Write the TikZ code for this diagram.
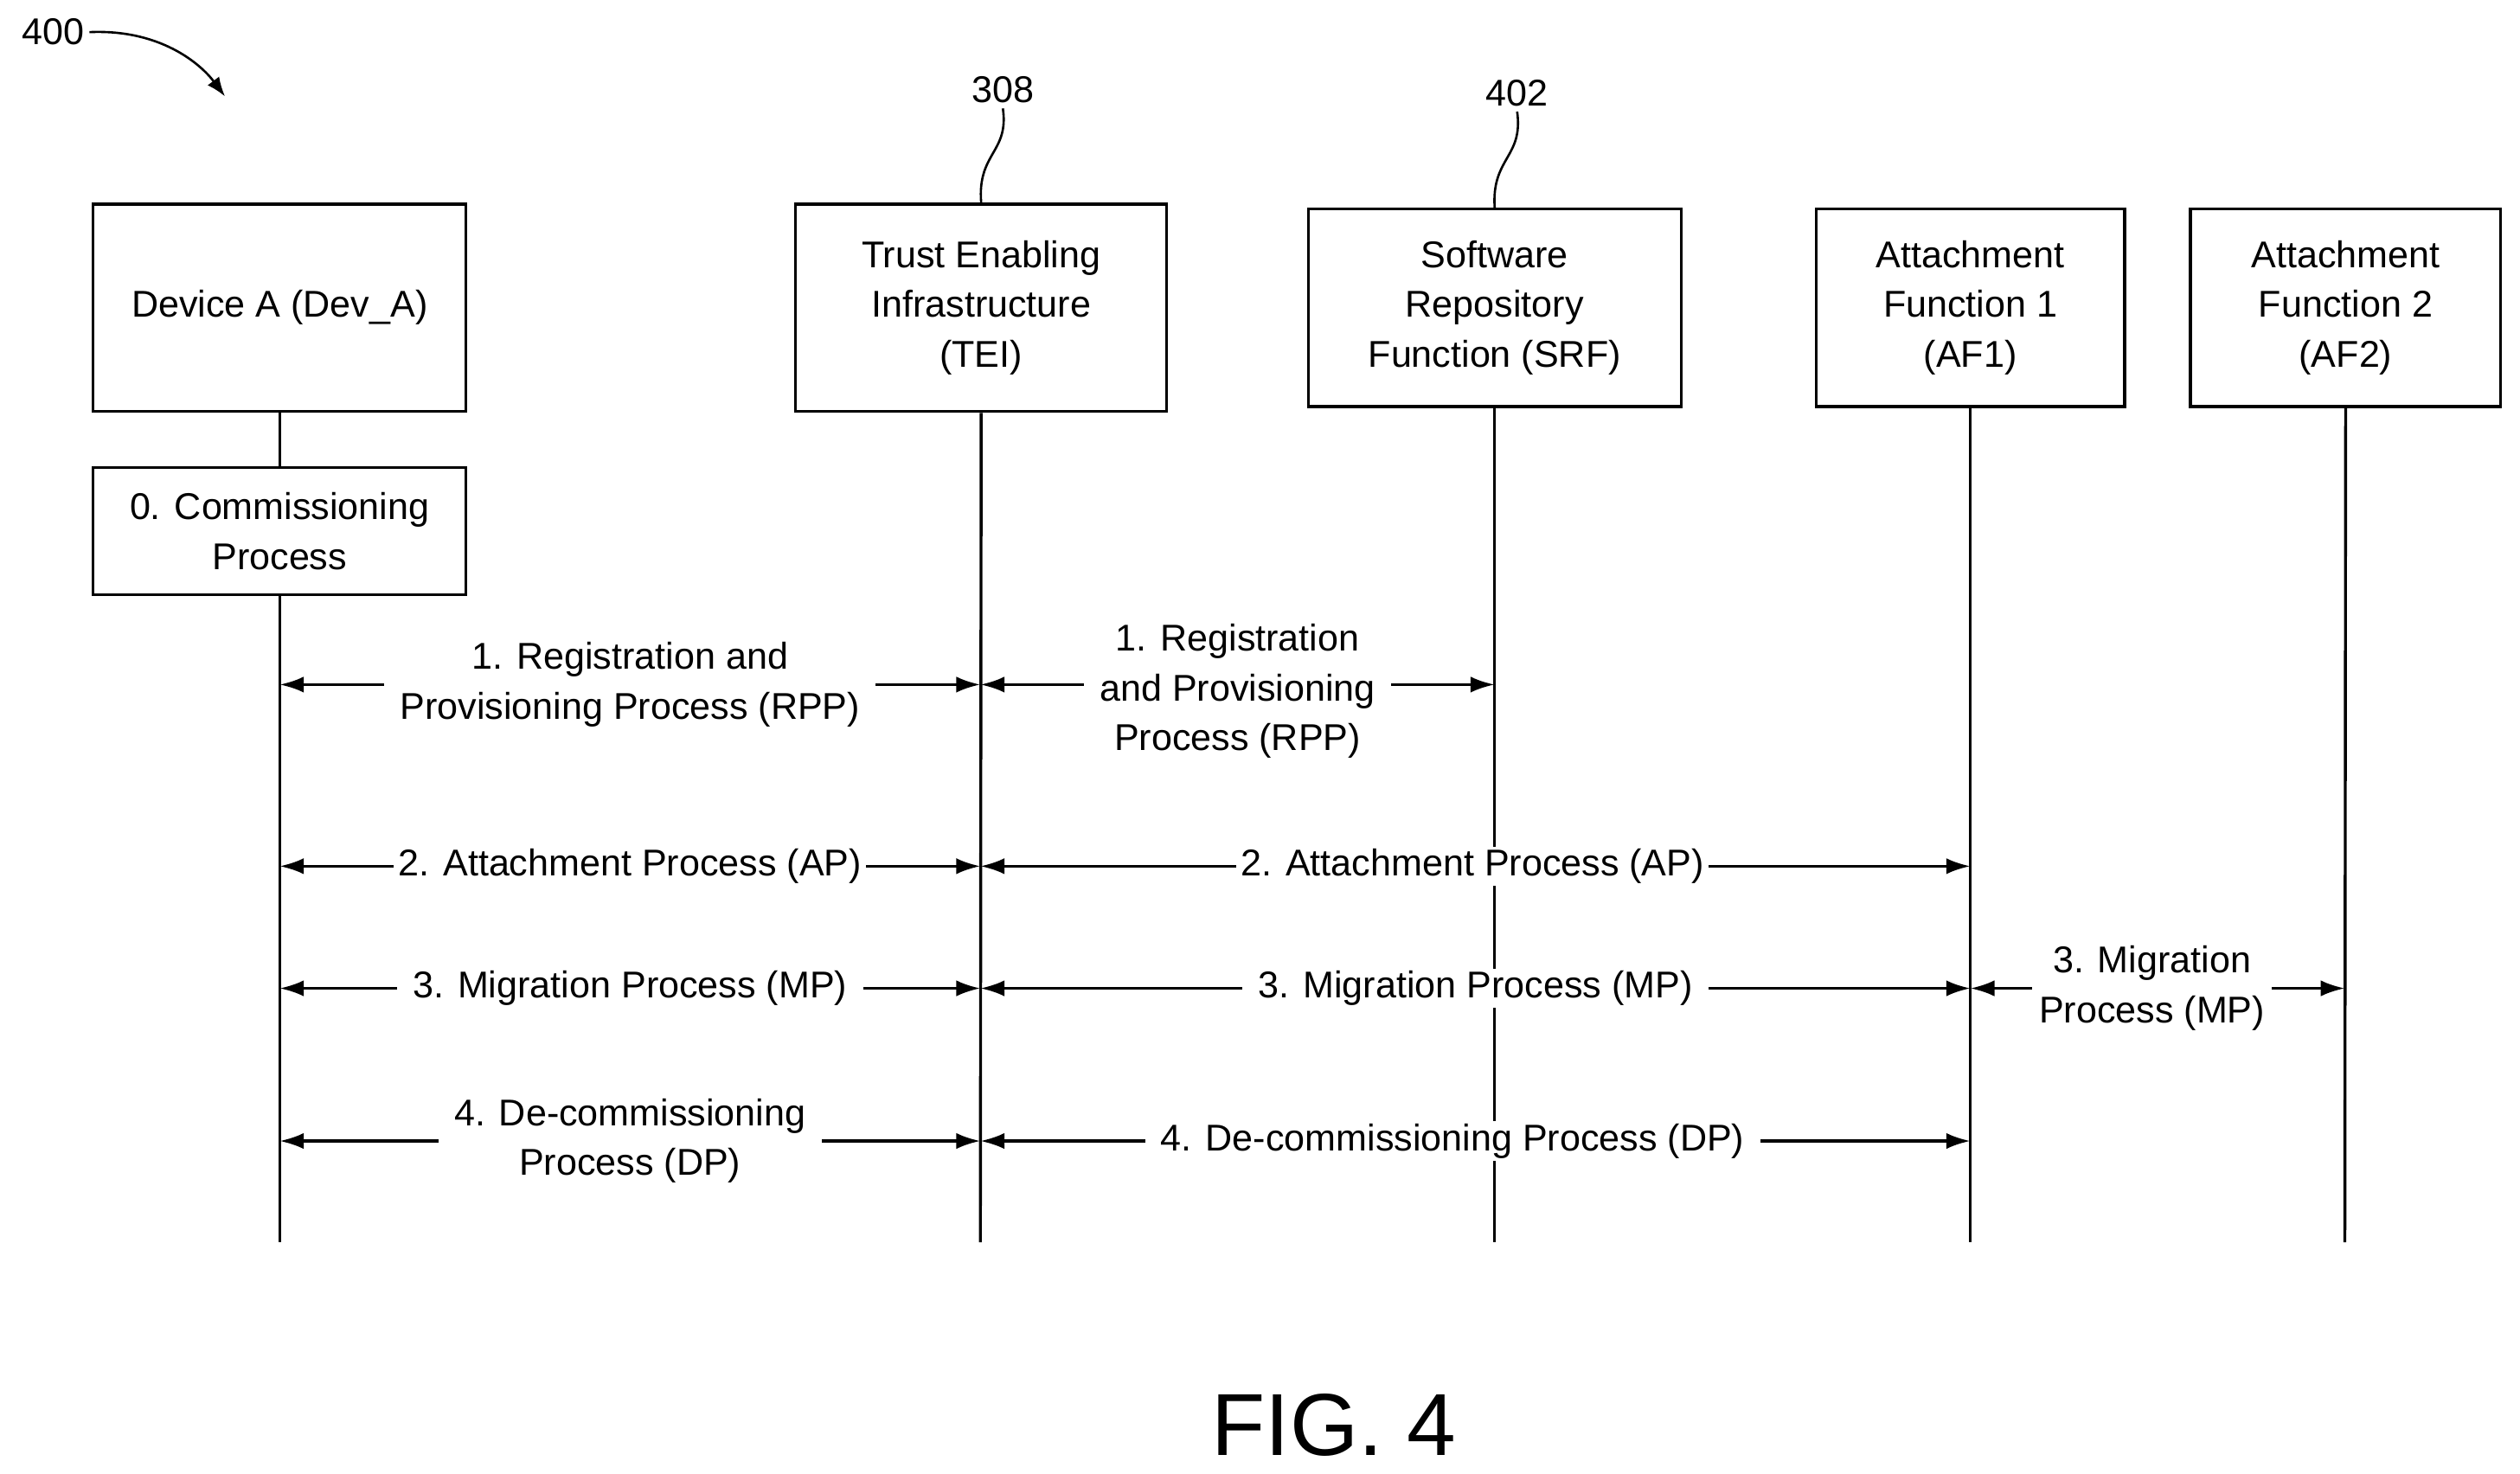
\documentclass[tikz,border=0pt]{standalone}
\usepackage{fontspec}
\setmainfont{Liberation Sans}
\usetikzlibrary{arrows.meta}
\begin{document}
\begin{tikzpicture}[x=0.05cm,y=-0.05cm,line width=2.6pt,
  every node/.style={font=\fontsize{33}{44}\selectfont},
  box/.style={draw,align=center,inner sep=0pt},
  lbl/.style={fill=white,align=center,inner xsep=14pt,inner ysep=2pt},
  arr/.style={{Latex[length=0.75cm,width=0.5cm]}-{Latex[length=0.75cm,width=0.5cm]}}]
\useasboundingbox (0,0) rectangle (1568,917);
\node[box,minimum width=232*0.05cm,minimum height=129*0.05cm] (A) at (174,191.5) {Device A (Dev\_A)};
\node[box,minimum width=231*0.05cm,minimum height=129*0.05cm] (T) at (610.5,191.5) {Trust Enabling\\Infrastructure\\(TEI)};
\node[box,minimum width=232*0.05cm,minimum height=123*0.05cm] (S) at (930,191.5) {Software\\Repository\\Function (SRF)};
\node[box,minimum width=192*0.05cm,minimum height=123*0.05cm] (F1) at (1226,191.5) {Attachment\\Function 1\\(AF1)};
\node[box,minimum width=193*0.05cm,minimum height=123*0.05cm] (F2) at (1459.5,191.5) {Attachment\\Function 2\\(AF2)};
\node[box,minimum width=232*0.05cm,minimum height=79*0.05cm] (C) at (174,330.5) {0. Commissioning\\Process};
\coordinate (Ab) at (174,773); \coordinate (Tb) at (610,773); \coordinate (Sb) at (930,773);
\coordinate (F1b) at (1226,773); \coordinate (F2b) at (1459,773);
\draw (A.south) -- (C.north); \draw (C.south) -- (Ab);
\draw (T.south) -- (Tb); \draw (S.south) -- (Sb); \draw (F1.south) -- (F1b); \draw (F2.south) -- (F2b);
% reference numerals
\node (n400) at (33,20) {400};
\node (n308) at (624,56) {308};
\node (n402) at (944,58) {402};
\coordinate (e400) at (140,60);
\draw[line width=2pt,-{Latex[length=0.6cm,width=0.45cm]}] (n400.east) .. controls (100,18) and (125,40) .. (e400);
\draw[line width=2pt] (n308.south) .. controls (628,95) and (608,95) .. (T.north);
\draw[line width=2pt] (n402.south) .. controls (948,98) and (928,98) .. (S.north);
% row coordinates
\foreach \n/\y in {1/426,2/539,3/615,4/710}{
  \coordinate (a\n) at (174,\y); \coordinate (t\n) at (610,\y);
  \coordinate (s\n) at (930,\y); \coordinate (f\n) at (1226,\y); \coordinate (g\n) at (1459,\y);}
\draw[arr] (a1) -- (t1) node[lbl,pos=0.5] {1. Registration and\\Provisioning Process (RPP)};
\draw[arr] (t1) -- (s1) node[lbl,pos=0.5,yshift=-0.2cm] {1. Registration\\and Provisioning\\Process (RPP)};
\draw[arr] (a2) -- (t2) node[lbl,inner xsep=4pt,pos=0.5] {2. Attachment Process (AP)};
\draw[arr] (t2) -- (f2) node[lbl,inner xsep=4pt,pos=0.497] {2. Attachment Process (AP)};
\draw[arr] (a3) -- (t3) node[lbl,pos=0.5] {3. Migration Process (MP)};
\draw[arr] (t3) -- (f3) node[lbl,pos=0.5] {3. Migration Process (MP)};
\draw[arr] (f3) -- (g3) node[lbl,inner xsep=6pt,pos=0.485] {3. Migration\\Process (MP)};
\draw[arr] (a4) -- (t4) node[lbl,pos=0.5] {4. De-commissioning\\Process (DP)};
\draw[arr] (t4) -- (f4) node[lbl,pos=0.477] {4. De-commissioning Process (DP)};
\node[font=\fontsize{78}{90}\selectfont] (fig) at (830,887) {FIG. 4};
\end{tikzpicture}
\end{document}
